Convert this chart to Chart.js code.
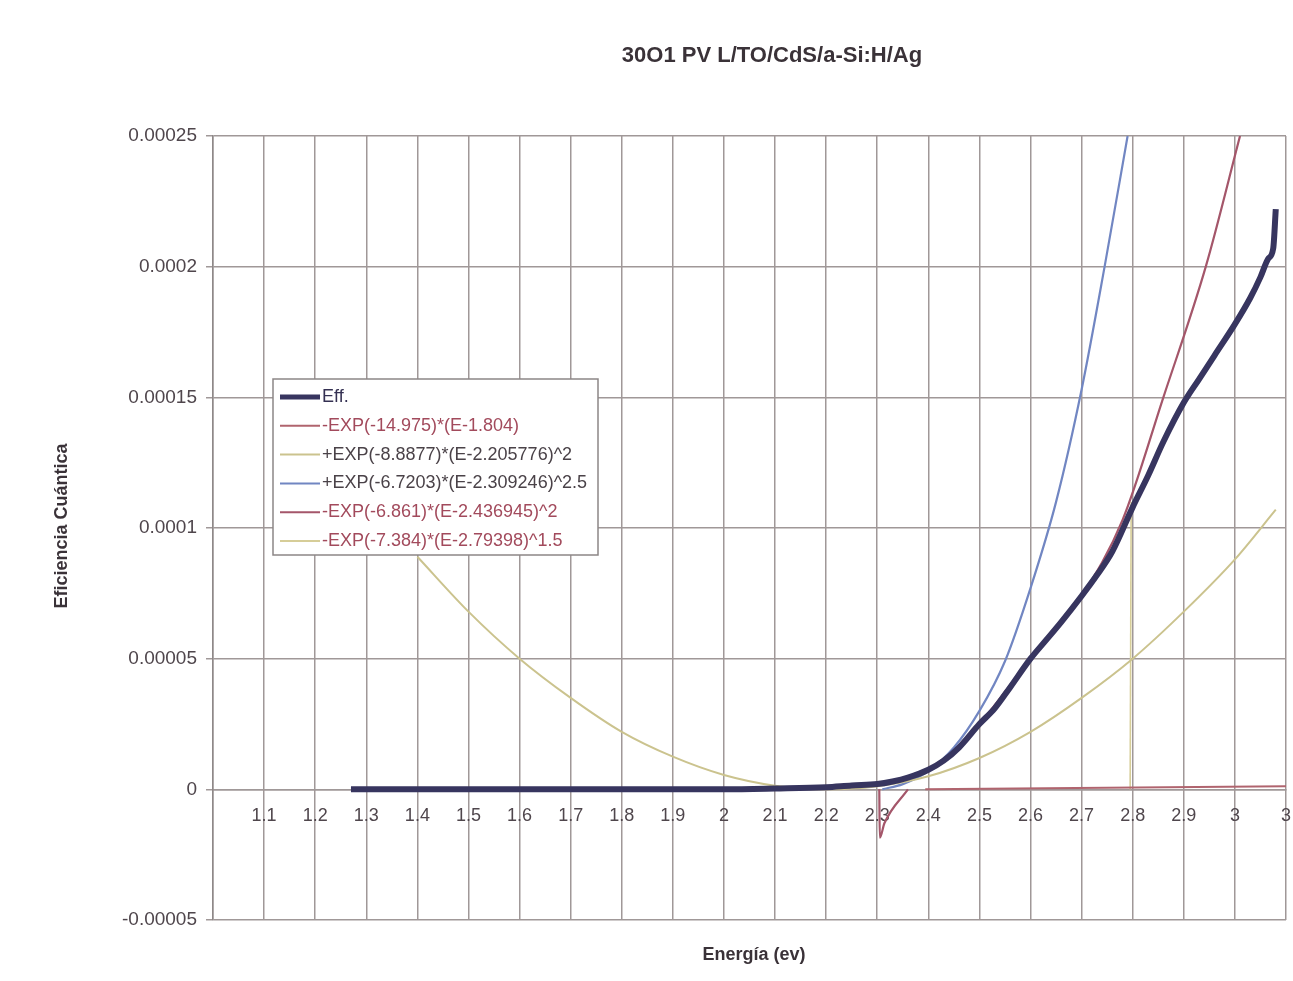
<!DOCTYPE html>
<html>
<head>
<meta charset="utf-8">
<script src="https://cdn.jsdelivr.net/npm/chart.js@4.4.1/dist/chart.umd.min.js"></script>
<style>html,body{margin:0;background:#fff}</style>
</head>
<body>
<canvas id="myChart" width="1293" height="981"></canvas>
<script>
const chartTitle = '30O1 PV L/TO/CdS/a-Si:H/Ag';
const xTitle = 'Energía (ev)';
const yTitle = 'Eficiencia Cuántica';

const seriesNames = [
  'Eff.',
  '-EXP(-14.975)*(E-1.804)',
  '+EXP(-8.8877)*(E-2.205776)^2',
  '+EXP(-6.7203)*(E-2.309246)^2.5',
  '-EXP(-6.861)*(E-2.436945)^2',
  '-EXP(-7.384)*(E-2.79398)^1.5'
];
const seriesColors = ['#37355f', '#b0646e', '#cbc38e', '#7186c2', '#a4566a', '#d6cd98'];
const legendTextColors = ['#343052', '#a24a5c', '#4a4248', '#4a4248', '#a24a5c', '#a24a5c'];

// Eff. (measured)
const effX = [1.27, 1.4, 1.6, 1.8, 2.0, 2.1, 2.2, 2.25, 2.3, 2.33, 2.36, 2.4, 2.43, 2.46, 2.5, 2.53, 2.56, 2.6, 2.63, 2.66, 2.7, 2.73, 2.76, 2.8, 2.83, 2.86, 2.9, 2.93, 2.96, 3.0, 3.03, 3.05, 3.065, 3.075, 3.08];
const effY = [0, 0, 0, 0, 0, 0.0000003, 0.0000008, 0.0000015, 0.000002, 0.000003, 0.0000045, 0.0000075, 0.000011, 0.000016, 0.000025, 0.000031, 0.000039, 0.00005, 0.000057, 0.000064, 0.000074, 0.000082, 0.000091, 0.000108, 0.00012, 0.000133, 0.000148, 0.000157, 0.000166, 0.000178, 0.000188, 0.000196, 0.000203, 0.000207, 0.000222];

// -EXP(-14.975)*(E-1.804)
const s2X = [2.394, 3.1];
const s2Y = [0, 0.0000012];

// +EXP(-8.8877)*(E-2.205776)^2
const s3X = [1.4, 1.5, 1.6, 1.7, 1.8, 1.9, 2.0, 2.1, 2.2, 2.3, 2.4, 2.5, 2.6, 2.7, 2.8, 2.9, 3.0, 3.08];
const s3Y = [0.000089, 0.000068, 0.00005, 0.000035, 0.000022, 0.0000125, 0.0000055, 0.0000014, 0, 0.0000012, 0.000005, 0.000012, 0.000022, 0.000035, 0.00005, 0.000068, 0.000088, 0.000107];

// +EXP(-6.7203)*(E-2.309246)^2.5
const s4X = [2.31, 2.35, 2.4, 2.45, 2.5, 2.55, 2.6, 2.65, 2.7, 2.745, 2.79];
const s4Y = [0, 0.000002, 0.000007, 0.000016, 0.00003, 0.000049, 0.000077, 0.00011, 0.000153, 0.0002, 0.00025];

// -EXP(-6.861)*(E-2.436945)^2
const s5X = [2.304, 2.305, 2.314, 2.36, 2.4, 2.44, 2.5, 2.6, 2.7, 2.78, 2.86, 2.943, 3.01];
const s5Y = [0, -0.0000185, -0.000013, 0, null, 0.000013, 0.000025, 0.00005, 0.000074, 0.000103, 0.00015, 0.0002, 0.00025];

// -EXP(-7.384)*(E-2.79398)^1.5
const s6X = [2.795, 2.797];
const s6Y = [0, 0.00011];

const xTicks = [1.0, 1.1, 1.2, 1.3, 1.4, 1.5, 1.6, 1.7, 1.8, 1.9, 2.0, 2.1, 2.2, 2.3, 2.4, 2.5, 2.6, 2.7, 2.8, 2.9, 3.0, 3.1];
const xTickLabels = ['', '1.1', '1.2', '1.3', '1.4', '1.5', '1.6', '1.7', '1.8', '1.9', '2', '2.1', '2.2', '2.3', '2.4', '2.5', '2.6', '2.7', '2.8', '2.9', '3', '3'];
const yTicks = [-0.00005, 0, 0.00005, 0.0001, 0.00015, 0.0002, 0.00025];
const yTickLabels = ['-0.00005', '0', '0.00005', '0.0001', '0.00015', '0.0002', '0.00025'];

const pts = (xs, ys) => xs.map((x, i) => ({ x: x, y: ys[i] }));
const allX = [effX, s2X, s3X, s4X, s5X, s6X];
const allY = [effY, s2Y, s3Y, s4Y, s5Y, s6Y];
const widths = [6, 2, 2, 2.2, 2.2, 1.6];

const datasets = seriesNames.map((name, i) => ({
  label: name,
  data: pts(allX[i], allY[i]),
  borderColor: seriesColors[i],
  backgroundColor: seriesColors[i],
  borderWidth: widths[i],
  showLine: true,
  pointRadius: 0,
  spanGaps: false,
  cubicInterpolationMode: (i === 1 || i === 5) ? 'default' : 'monotone',
  tension: 0
}));

const FONT = '"Liberation Sans", Arial, sans-serif';

const overlay = {
  id: 'overlay',
  afterDraw(chart) {
    const ctx = chart.ctx;
    const a = chart.chartArea;
    ctx.save();
    ctx.fillStyle = '#3a3238';
    ctx.textAlign = 'center';
    ctx.textBaseline = 'middle';
    ctx.font = 'bold 22px ' + FONT;
    ctx.fillText(chartTitle, 772, 56);
    ctx.font = 'bold 18px ' + FONT;
    ctx.fillText(xTitle, 754, 955);
    ctx.save();
    ctx.translate(62, 526);
    ctx.rotate(-Math.PI / 2);
    ctx.font = 'bold 18px ' + FONT;
    ctx.fillText(yTitle, 0, 0);
    ctx.restore();

    // legend box inside plot
    const lx = a.left + 60, ly = a.top + 243, lw = 325, lh = 176;
    ctx.fillStyle = '#ffffff';
    ctx.fillRect(lx, ly, lw, lh);
    ctx.strokeStyle = '#8c8686';
    ctx.lineWidth = 1.5;
    ctx.strokeRect(lx, ly, lw, lh);
    ctx.textAlign = 'left';
    ctx.font = '18px ' + FONT;
    chart.data.datasets.forEach((ds, i) => {
      const y = ly + 18 + i * 28.8;
      ctx.strokeStyle = ds.borderColor;
      ctx.lineWidth = i === 0 ? 5 : 2;
      ctx.beginPath();
      ctx.moveTo(lx + 7, y);
      ctx.lineTo(lx + 47, y);
      ctx.stroke();
      ctx.fillStyle = legendTextColors[i];
      ctx.fillText(ds.label, lx + 49, y);
    });
    ctx.restore();
  }
};

new Chart(document.getElementById('myChart'), {
  type: 'scatter',
  data: { datasets: datasets },
  options: {
    responsive: false,
    animation: false,
    layout: { padding: { top: 136, bottom: 61, left: 0, right: 7 } },
    plugins: { legend: { display: false }, tooltip: { enabled: false } },
    scales: {
      x: {
        type: 'linear',
        position: { y: 0 },
        min: 1.0,
        max: 3.1,
        afterBuildTicks: (s) => { s.ticks = xTicks.map(v => ({ value: v })); },
        afterFit: (s) => { s.paddingRight = 0; s.paddingLeft = 0; },
        ticks: {
          callback: (v, i) => xTickLabels[i],
          color: '#4f464c',
          font: { family: FONT, size: 18 },
          maxRotation: 0,
          autoSkip: false,
          padding: 7
        },
        grid: { color: '#a09898', lineWidth: 1.5, tickLength: 9, tickColor: 'rgba(0,0,0,0)' },
        border: { color: '#a09898', width: 1.5 }
      },
      y: {
        type: 'linear',
        position: 'left',
        min: -0.00005,
        max: 0.00025,
        afterBuildTicks: (s) => { s.ticks = yTicks.map(v => ({ value: v })); },
        afterFit: (s) => { s.width = 213; },
        ticks: {
          callback: (v, i) => yTickLabels[i],
          color: '#4f464c',
          font: { family: FONT, size: 19 },
          padding: 9
        },
        grid: { color: '#a09898', lineWidth: 1.5, tickLength: 7 },
        border: { color: '#8e8888', width: 1.5 }
      }
    }
  },
  plugins: [overlay]
});
</script>
</body>
</html>
